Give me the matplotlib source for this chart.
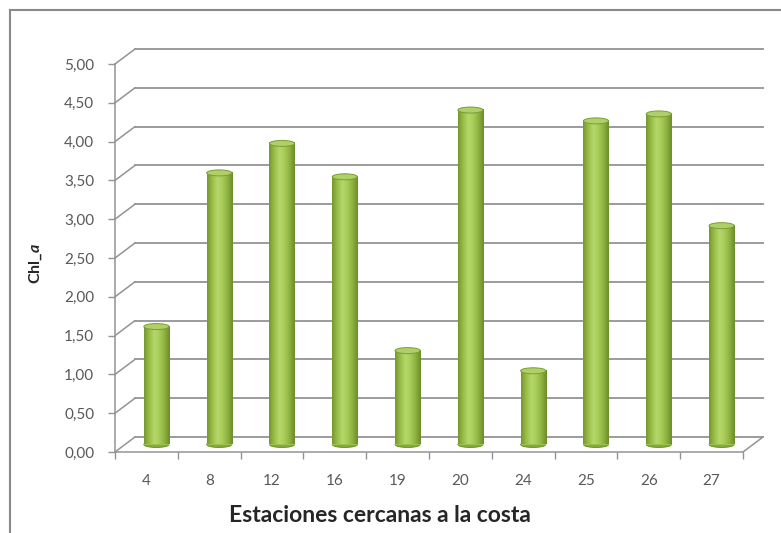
import matplotlib
matplotlib.use("Agg")
import matplotlib.pyplot as plt
import numpy as np
from matplotlib.transforms import ScaledTranslation
from matplotlib.patches import Ellipse, ConnectionPatch
from matplotlib.colors import LinearSegmentedColormap
from matplotlib.lines import Line2D

# Chlorophyll-a at coastal stations
stations = ["4", "8", "12", "16", "19", "20", "24", "25", "26", "27"]
chl_a = [1.52, 3.50, 3.88, 3.45, 1.21, 4.31, 0.95, 4.17, 4.26, 2.82]
y_ticks = [0.0, 0.5, 1.0, 1.5, 2.0, 2.5, 3.0, 3.5, 4.0, 4.5, 5.0]
y_tick_labels = ["0,00", "0,50", "1,00", "1,50", "2,00", "2,50",
                 "3,00", "3,50", "4,00", "4,50", "5,00"]
x_title = "Estaciones cercanas a la costa"
y_title = "Chl_$a$"

plt.rcParams["font.family"] = ["Lato", "DejaVu Sans"]
plt.rcParams["mathtext.fontset"] = "custom"
plt.rcParams["mathtext.it"] = "Lato:bold:italic"
plt.rcParams["mathtext.rm"] = "Lato:bold"

W, H, DPI = 781, 533, 100
fig = plt.figure(figsize=(W / DPI, H / DPI), dpi=DPI)
fig.patch.set_facecolor("white")

GRID = "#939393"
TXT = "#595959"

# front plane of the 3-D box, in pixels
left, right, bottom, top = 115, 743, 452, 64
ax = fig.add_axes([left / W, (H - bottom) / H, (right - left) / W, (bottom - top) / H])
ax.set_xlim(0, len(stations))
ax.set_ylim(0, 5)
ax.set_facecolor("none")

# depth offsets (back wall and mid-depth where the columns stand)
back = ax.transData + ScaledTranslation(0.20, 0.15, fig.dpi_scale_trans)
mid = ax.transData + ScaledTranslation(0.10, 0.075, fig.dpi_scale_trans)

# back-wall gridlines and side-wall diagonals
for v in y_ticks:
    ax.add_line(Line2D([0, len(stations)], [v, v], transform=back,
                       color=GRID, lw=1.3, zorder=1, clip_on=False))
    ax.add_artist(ConnectionPatch((0, v), (0, v), coordsA=ax.transData,
                                  coordsB=back, color=GRID, lw=1.1,
                                  zorder=1, clip_on=False))
# right edge of the floor
ax.add_artist(ConnectionPatch((len(stations), 0), (len(stations), 0),
                              coordsA=ax.transData, coordsB=back,
                              color=GRID, lw=1.1, zorder=1, clip_on=False))

# axes lines and ticks
for s in ["top", "right"]:
    ax.spines[s].set_visible(False)
for s in ["left", "bottom"]:
    ax.spines[s].set_color(GRID)
    ax.spines[s].set_linewidth(1.1)

ax.set_yticks(y_ticks)
ax.set_yticklabels(y_tick_labels)
ax.tick_params(axis="y", length=5, width=1.0, color=GRID, pad=10,
               labelsize=11, labelcolor=TXT)

x = np.arange(len(stations)) + 0.5
ax.set_xticks(x)
ax.set_xticklabels(stations)
ax.set_xticks(np.arange(len(stations) + 1), minor=True)
ax.tick_params(axis="x", which="major", length=0, pad=16,
               labelsize=11, labelcolor=TXT)
ax.tick_params(axis="x", which="minor", length=5, width=1.0, color=GRID)

# cylindrical columns
bw = 0.4
eh = 6 / 77.6
shade = LinearSegmentedColormap.from_list(
    "cyl", ["#76962f", "#98bd47", "#b6d86b", "#a8cb58", "#8db23f", "#6c8a2a"])
grad = np.linspace(0, 1, 128).reshape(1, -1)

bars = ax.bar(x, chl_a, width=bw, transform=mid, color="#9bc04c",
              edgecolor="none", zorder=4, clip_on=False)
for b, xc, v in zip(bars, x, chl_a):
    ax.add_patch(Ellipse((xc, 0), bw, eh, transform=mid, facecolor="#86a83c",
                         edgecolor="#6c8a2a", lw=0.6, zorder=3, clip_on=False))
    im = ax.imshow(grad, cmap=shade, aspect="auto", interpolation="bicubic",
                   extent=(b.get_x(), b.get_x() + b.get_width(), 0, v),
                   transform=mid, zorder=4.5, clip_on=False)
    im.set_clip_path(b)
    ax.add_patch(Ellipse((xc, v), bw, eh, transform=mid, facecolor="#aed067",
                         edgecolor="#7d9c36", lw=0.7, zorder=5, clip_on=False))

ax.set_xlim(0, len(stations))
ax.set_ylim(0, 5)

# titles
fig.text(380 / W, 1 - 515 / H, x_title, ha="center", va="center",
         fontsize=16.5, fontweight="bold", color="#262626")
fig.text(36 / W, 1 - 264 / H, y_title, ha="center", va="center",
         rotation=90, fontsize=11.5, fontweight="bold", color="#262626")

# chart frame
fig.add_artist(Line2D([10 / W, 10 / W], [0, 1 - 10 / H], transform=fig.transFigure,
                      color="#8a8a8a", lw=1.5))
fig.add_artist(Line2D([10 / W, 1], [1 - 10 / H, 1 - 10 / H], transform=fig.transFigure,
                      color="#8a8a8a", lw=1.5))

fig.savefig("out.png", dpi=DPI, facecolor="white")
